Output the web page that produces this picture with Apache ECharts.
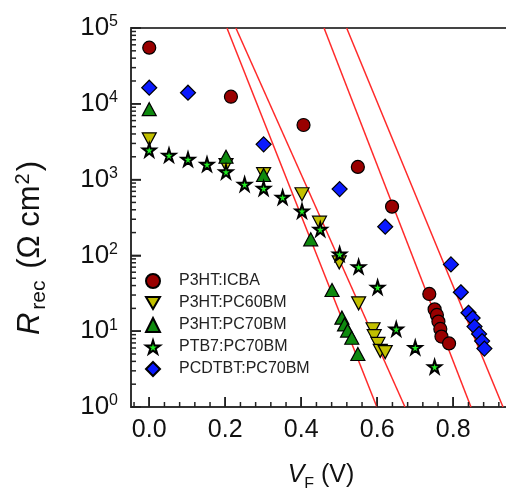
<!DOCTYPE html>
<html>
<head>
<meta charset="utf-8">
<script src="https://cdn.jsdelivr.net/npm/echarts@6/dist/echarts.min.js"></script>
<style>html,body{margin:0;padding:0;background:#fff}#c{width:506px;height:488px}</style>
</head>
<body>
<div id="c"></div>
<script>
// ---- data (V_F in V, R_rec in Ohm cm^2) ----
var icbaV = [0.0, 0.215, 0.406, 0.549, 0.639, 0.737, 0.751, 0.757, 0.761, 0.766, 0.769, 0.789];
var icbaR = [55000, 12400, 5250, 1470, 440, 31, 19.4, 16.4, 13.4, 10.7, 8.5, 6.9];
var pc60V = [0.0, 0.202, 0.301, 0.402, 0.448, 0.500, 0.551, 0.589, 0.592, 0.602, 0.608, 0.621];
var pc60R = [3400, 1560, 1180, 640, 270, 81, 23.3, 10.6, 8.6, 6.8, 5.5, 5.3];
var pc70V = [0.0, 0.202, 0.301, 0.425, 0.481, 0.507, 0.514, 0.522, 0.533, 0.549];
var pc70R = [8500, 2000, 1150, 163, 35, 15.1, 12.3, 10.2, 8.2, 5.0];
var ptb7V = [0.0, 0.052, 0.102, 0.152, 0.202, 0.251, 0.301, 0.351, 0.402, 0.450, 0.501, 0.551, 0.601, 0.650, 0.700, 0.751];
var ptb7R = [2460, 2100, 1850, 1590, 1270, 867, 768, 584, 385, 221, 104, 71, 38, 10.7, 6.1, 3.4];
var pcdtV = [0.0, 0.102, 0.301, 0.501, 0.621, 0.794, 0.820, 0.840, 0.851, 0.856, 0.868, 0.876, 0.882];
var pcdtR = [16300, 14000, 2920, 750, 239, 76, 32.6, 17.5, 14.9, 11.5, 9.2, 7.4, 5.9];
// fit lines: V at R = 1e5 and at R = 1
var fitV0 = [0.2045, 0.228, 0.460, 0.5195];
var fitV1 = [0.599, 0.673, 0.8466, 0.931];
var fitR0 = 100000, fitR1 = 1;
var seriesNames = ['P3HT:ICBA', 'P3HT:PC60BM', 'P3HT:PC70BM', 'PTB7:PC70BM', 'PCDTBT:PC70BM'];
var xTickLabels = [0.0, 0.2, 0.4, 0.6, 0.8];
var xMinorTicks = [-0.04, 0.04, 0.08, 0.12, 0.16, 0.24, 0.28, 0.32, 0.36, 0.44, 0.48, 0.52, 0.56, 0.64, 0.68, 0.72, 0.76, 0.84, 0.88, 0.92];
var yTickLabels = [1, 10, 100, 1000, 10000, 100000];

function pairs(xs, ys) { return xs.map(function (x, i) { return [x, ys[i]]; }); }
var yMinor = [];
for (var d = 1; d < 100000; d *= 10) for (var m = 2; m <= 9; m++) yMinor.push(m * d);

var FONT = 'Liberation Sans, Arial, sans-serif';
var starPath = 'path://M50,0 L61,35 L98,35 L68,57 L79,91 L50,70 L21,91 L32,57 L2,35 L39,35 Z';
var downTri = 'path://M0,0 L100,0 L50,87 Z';
var XMIN = -0.048, XMAX = 0.952, YMIN = 1, YMAX = 100000;

var series = [];
for (var k = 0; k < fitV0.length; k++) {
  series.push({
    type: 'line', silent: true, symbol: 'none',
    data: [[fitV0[k], fitR0], [fitV1[k], fitR1]],
    lineStyle: { color: '#ff2a2a', width: 1.5 }, z: 1
  });
}
// minor axis ticks drawn through the axes' own scales
function tickSeries(vals, dir, len) {
  return {
    type: 'custom', silent: true, clip: false, z: 6,
    data: vals.map(function (v) { return dir === 'x' ? [v, YMIN] : [XMIN, v]; }),
    renderItem: function (params, api) {
      var p = api.coord([api.value(0), api.value(1)]);
      var shape = dir === 'x'
        ? { x1: p[0], y1: p[1], x2: p[0], y2: p[1] - len }
        : { x1: p[0], y1: p[1], x2: p[0] + len, y2: p[1] };
      return { type: 'line', shape: shape, style: { stroke: '#222', lineWidth: 1.5 } };
    }
  };
}
series.push(tickSeries(xTickLabels, 'x', 10));
series.push(tickSeries(xMinorTicks, 'x', 5));
series.push(tickSeries(yTickLabels, 'y', 10));
series.push(tickSeries(yMinor, 'y', 5));

var border = { borderColor: '#000', borderWidth: 1.2, opacity: 1 };
series.push({ name: seriesNames[0], type: 'scatter', symbol: 'circle', symbolSize: 13, data: pairs(icbaV, icbaR),
  itemStyle: Object.assign({ color: '#990000' }, border), z: 3 });
series.push({ name: seriesNames[1], type: 'scatter', symbol: downTri, symbolSize: [14, 13], data: pairs(pc60V, pc60R),
  itemStyle: Object.assign({ color: '#c2c000' }, border), z: 3 });
series.push({ name: seriesNames[2], type: 'scatter', symbol: 'triangle', symbolSize: [14, 13], data: pairs(pc70V, pc70R),
  itemStyle: Object.assign({ color: '#0f8a0f' }, border), z: 3 });
series.push({ name: seriesNames[3], type: 'scatter', symbol: starPath, symbolSize: 13, data: pairs(ptb7V, ptb7R),
  itemStyle: { color: '#22ee22', borderColor: '#000', borderWidth: 2, opacity: 1 }, z: 3 });
series.push({ name: seriesNames[4], type: 'scatter', symbol: 'diamond', symbolSize: 15, data: pairs(pcdtV, pcdtR),
  itemStyle: Object.assign({ color: '#0a1aff' }, border), z: 3 });

var majorTick = function (vals) {
  return { show: true, inside: true, length: 10, customValues: vals, lineStyle: { color: '#222', width: 1.5 } };
};
var chart = echarts.init(document.getElementById('c'), null, { renderer: 'canvas' });
chart.setOption({
  animation: false,
  backgroundColor: '#fff',
  grid: { left: 131, top: 28, width: 380, height: 379, outerBoundsMode: 'none', containLabel: false },
  legend: {
    data: seriesNames, orient: 'vertical', left: 140, top: 268, padding: 5,
    itemWidth: 14, itemHeight: 14, itemGap: 6,
    textStyle: { fontFamily: FONT, fontSize: 16, color: '#222', padding: [0, 0, 0, 14] }
  },
  xAxis: [{
    type: 'value', min: XMIN, max: XMAX, position: 'bottom',
    axisLine: { show: true, onZero: false, lineStyle: { color: '#333', width: 2 } },
    axisTick: majorTick(xTickLabels),
    axisLabel: { customValues: xTickLabels, fontFamily: FONT, fontSize: 25, color: '#111', margin: 11,
      formatter: function (v) { return v.toFixed(1); } },
    splitLine: { show: false },
    name: '{i|V}{s|F}{n| (V)}', nameLocation: 'middle', nameGap: 54,
    nameTextStyle: { fontFamily: FONT, color: '#111', rich: {
      i: { fontSize: 25, fontStyle: 'italic', fontFamily: FONT, lineHeight: 28 },
      s: { fontSize: 16, verticalAlign: 'bottom', fontFamily: FONT, lineHeight: 16, padding: [0, 0, -4, 0] },
      n: { fontSize: 25, fontFamily: FONT, lineHeight: 28 } } }
  }, {
    type: 'value', min: XMIN, max: XMAX, position: 'top',
    axisLine: { show: true, onZero: false, lineStyle: { color: '#444', width: 2 } },
    axisLabel: { show: false }, splitLine: { show: false }, axisTick: { show: false }
  }],
  yAxis: [{
    type: 'log', logBase: 10, min: YMIN, max: YMAX, position: 'left',
    axisLine: { show: true, onZero: false, lineStyle: { color: '#333', width: 2 } },
    axisTick: majorTick(yTickLabels),
    axisLabel: { customValues: yTickLabels, fontFamily: FONT, color: '#111', margin: 13,
      formatter: function (v) { return '{b|10}{s|' + Math.round(Math.log10(v)) + '}'; },
      rich: { b: { fontSize: 26, fontFamily: FONT, lineHeight: 28 },
              s: { fontSize: 16, fontFamily: FONT, verticalAlign: 'top', lineHeight: 15 } } },
    splitLine: { show: false }
  }],
  graphic: [{
    type: 'text', x: 30, y: 248, rotation: Math.PI / 2,
    style: {
      text: '{i|R}{s|rec}{n| (Ω cm}{p|2}{n|)}',
      align: 'center', verticalAlign: 'middle', fill: '#111', fontFamily: FONT,
      rich: {
        i: { fontSize: 31, fontStyle: 'italic', fontFamily: FONT, lineHeight: 34, fill: '#111' },
        s: { fontSize: 21, fontFamily: FONT, verticalAlign: 'bottom', lineHeight: 21, fill: '#111', padding: [0, 3, -3, 3] },
        n: { fontSize: 31, fontFamily: FONT, lineHeight: 34, fill: '#111' },
        p: { fontSize: 20, fontFamily: FONT, verticalAlign: 'top', lineHeight: 20, fill: '#111', padding: [0, 2, 4, 1] }
      }
    }
  }],
  series: series
});
</script>
</body>
</html>
